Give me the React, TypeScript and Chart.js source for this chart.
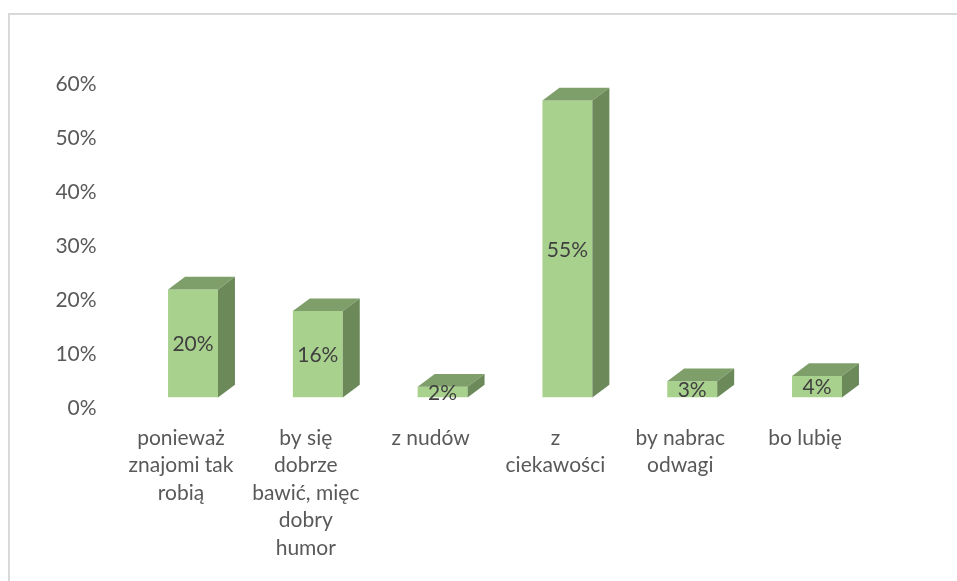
import React, { useEffect, useRef } from "react";
import { Chart, registerables } from "chart.js";

Chart.register(...registerables);

const categories: string[][] = [
  ["ponieważ", "znajomi tak", "robią"],
  ["by się", "dobrze", "bawić, mięc", "dobry", "humor"],
  ["z nudów"],
  ["z", "ciekawości"],
  ["by nabrac", "odwagi"],
  ["bo lubię"],
];
const values: number[] = [20, 16, 2, 55, 3, 4];
const yMin = 0;
const yMax = 60;
const yStep = 10;

const FRONT = "#A9D18E";
const TOP = "#7F9F6A";
const SIDE = "#6B8959";
const FONT = "Lato, 'Open Sans', sans-serif";

const depthPlugin = {
  id: "depth3d",
  afterDatasetsDraw(chart: any) {
    const ctx = chart.ctx;
    const meta = chart.getDatasetMeta(0);
    const dx = 17;
    const dy = 12.7;
    meta.data.forEach((bar: any, i: number) => {
      const p = bar.getProps(["x", "y", "base", "width"], true);
      const l = p.x - p.width / 2;
      const r = p.x + p.width / 2;
      const top = p.y;
      const base = p.base;
      ctx.save();
      // top face
      ctx.fillStyle = TOP;
      ctx.beginPath();
      ctx.moveTo(l, top);
      ctx.lineTo(r, top);
      ctx.lineTo(r + dx, top - dy);
      ctx.lineTo(l + dx, top - dy);
      ctx.closePath();
      ctx.fill();
      // side face
      ctx.fillStyle = SIDE;
      ctx.beginPath();
      ctx.moveTo(r, top);
      ctx.lineTo(r + dx, top - dy);
      ctx.lineTo(r + dx, base - dy);
      ctx.lineTo(r, base);
      ctx.closePath();
      ctx.fill();
      // value label
      ctx.fillStyle = "#404040";
      ctx.font = `21px ${FONT}`;
      ctx.textAlign = "center";
      ctx.textBaseline = "middle";
      ctx.fillText(`${values[i]}%`, p.x, (top + base) / 2 + 1);
      ctx.restore();
    });
  },
};

export default function App() {
  const ref = useRef<HTMLCanvasElement | null>(null);
  useEffect(() => {
    if (!ref.current) return;
    const chart = new Chart(ref.current, {
      type: "bar",
      data: {
        labels: categories,
        datasets: [
          {
            data: values,
            backgroundColor: FRONT,
            borderWidth: 0,
            barPercentage: 0.4,
            categoryPercentage: 1,
          },
        ],
      },
      options: {
        responsive: false,
        devicePixelRatio: 1,
        animation: false,
        layout: { padding: { top: 73.5, right: 77.6, left: 0, bottom: 0 } },
        plugins: { legend: { display: false }, tooltip: { enabled: false } },
        scales: {
          x: {
            grid: { display: false, drawTicks: false },
            border: { display: false },
            afterFit: (s: any) => {
              s.height = 183.5;
            },
            ticks: {
              color: "#595959",
              font: { family: FONT, size: 21, lineHeight: "27.5px" },
              padding: 26.5,
              labelOffset: -12,
              maxRotation: 0,
              autoSkip: false,
            },
          },
          y: {
            min: yMin,
            max: yMax,
            grid: { display: false, drawTicks: false },
            border: { display: false },
            afterFit: (s: any) => {
              s.width = 130.6;
            },
            ticks: {
              stepSize: yStep,
              color: "#595959",
              font: { family: FONT, size: 21 },
              padding: 34,
              labelOffset: 10.5,
              callback: (v: any) => `${v}%`,
            },
          },
        },
      },
      plugins: [depthPlugin],
    });
    return () => chart.destroy();
  }, []);
  return (
    <div
      style={{
        position: "fixed",
        left: 0,
        top: 0,
        width: 957,
        height: 581,
        overflow: "hidden",
        background: "#fff",
      }}
    >
      <canvas
        ref={ref}
        width={957}
        height={581}
        style={{ position: "absolute", left: 0, top: 0, display: "block" }}
      />
      <div
        style={{
          position: "absolute",
          left: 8,
          top: 13,
          width: 1200,
          height: 800,
          border: "2px solid #d9d9d9",
          pointerEvents: "none",
        }}
      />
    </div>
  );
}
